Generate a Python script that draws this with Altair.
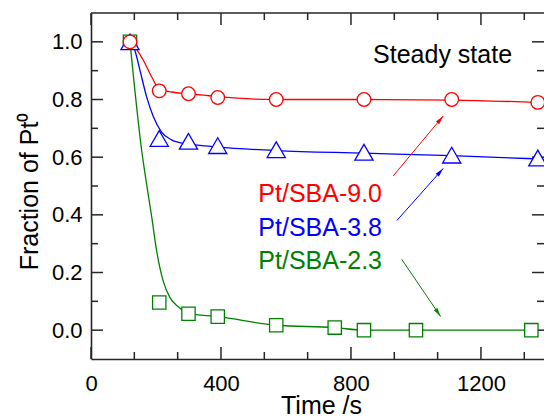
import math
import altair as alt
import pandas as pd

# ---------------- data ----------------
red_t = [120, 210, 300, 390, 570, 840, 1110, 1375]
red_y = [1.0, 0.83, 0.82, 0.807, 0.80, 0.80, 0.80, 0.79]
blue_t = [120, 210, 300, 390, 570, 840, 1110, 1375]
blue_y = [1.0, 0.665, 0.655, 0.64, 0.626, 0.617, 0.607, 0.597]
green_t = [120, 210, 300, 390, 570, 750, 840, 1000, 1355]
green_y = [1.0, 0.096, 0.057, 0.047, 0.017, 0.009, 0.0, 0.0, 0.0]

# fitted curves
red_fit_t = [120, 140, 161, 187, 209, 248, 300, 346, 390, 570, 840, 1110, 1375]
red_fit_y = [1.0, 0.975, 0.936, 0.878, 0.838, 0.826, 0.82, 0.815, 0.81, 0.80, 0.80, 0.798, 0.79]
blue_fit_t = [120, 135, 151, 171, 192, 217, 248, 289, 341, 390, 570, 840, 1110, 1375]
blue_fit_y = [1.0, 0.97, 0.90, 0.81, 0.74, 0.687, 0.66, 0.647, 0.64, 0.635, 0.623, 0.614, 0.605, 0.594]
green_fit_t = [120, 156, 171, 187, 202, 222, 243, 269, 299, 390, 570, 750, 840, 1000, 1355]
green_fit_y = [1.0, 0.623, 0.507, 0.391, 0.275, 0.171, 0.113, 0.081, 0.057, 0.047, 0.017, 0.009, 0.0, 0.0, 0.0]

series_names = ["Pt/SBA-9.0", "Pt/SBA-3.8", "Pt/SBA-2.3"]
series_colors = ["#FF0000", "#0000FF", "#008000"]

# annotation labels
label_t = [515, 515, 515]
label_y = [0.4455, 0.3276, 0.211]
# arrows (start -> tip)
arrow_t1 = [930, 941, 956]
arrow_y1 = [0.535, 0.380, 0.246]
arrow_t2 = [1084, 1084, 1076]
arrow_y2 = [0.743, 0.561, 0.047]

note_text = "Steady state"
note_t = 868
note_y = 0.9276

x_domain = [0, 1394]
y_domain = [-0.1, 1.1]
x_major = [0, 400, 800, 1200]
x_minor = [133.33, 266.67, 533.33, 666.67, 933.33, 1066.67, 1333.33]
y_major = [0.0, 0.2, 0.4, 0.6, 0.8, 1.0]
y_minor = [0.1, 0.3, 0.5, 0.7, 0.9]

# ---------------- layout / style ----------------
W, H = 453, 346
MAJ, MIN = 12, 7
AX = "#262626"
FONT = "Liberation Sans"

xs = alt.Scale(domain=x_domain, nice=False, zero=False)
ys = alt.Scale(domain=y_domain, nice=False, zero=False)
cs = alt.Scale(domain=series_names, range=series_colors)

x_axis = alt.Axis(values=x_major, format="d", ticks=False, tickSize=0, grid=False, domain=True,
                  domainColor=AX, domainWidth=1.6, labelFont=FONT, labelFontSize=22,
                  labelColor="black", labelBaseline="alphabetic", labelPadding=31,
                  labelFlush=False, title="Time /s", titleFont=FONT, titleFontSize=25,
                  titleFontWeight="normal", titleColor="black", titleX=230, titleY=54,
                  titleBaseline="alphabetic", titleAlign="center")
y_axis = alt.Axis(values=y_major, format=".1f", ticks=False, tickSize=0, grid=False,
                  domain=True, domainColor=AX, domainWidth=1.6, labelFont=FONT,
                  labelFontSize=22, labelColor="black", labelPadding=9, labelFlush=False,
                  title="Fraction of Pt\u2070", titleFont=FONT, titleFontSize=25,
                  titleFontWeight="normal", titleColor="black", titleAngle=270,
                  titleX=-54, titleY=178, titleBaseline="alphabetic", titleAlign="center")


def X(field="t"):
    return alt.X(f"{field}:Q", scale=xs, axis=x_axis)


def Y(field="y"):
    return alt.Y(f"{field}:Q", scale=ys, axis=y_axis)


# fitted curves
fit_df = pd.concat([
    pd.DataFrame({"s": series_names[0], "t": red_fit_t, "y": red_fit_y}),
    pd.DataFrame({"s": series_names[1], "t": blue_fit_t, "y": blue_fit_y}),
    pd.DataFrame({"s": series_names[2], "t": green_fit_t, "y": green_fit_y}),
])
lines = alt.Chart(fit_df).mark_line(interpolate="monotone", strokeWidth=1.3).encode(
    x=X(), y=Y(), color=alt.Color("s:N", scale=cs, legend=None), detail="s:N")


def markers(ts, vs, shape, size, color):
    df = pd.DataFrame({"t": ts, "y": vs})
    return alt.Chart(df).mark_point(shape=shape, size=size, filled=True, fill="white",
                                    stroke=color, strokeWidth=1.3, opacity=1).encode(x=X(), y=Y())


sq = markers(green_t, green_y, "square", 178, series_colors[2])
tri = markers(blue_t, blue_y, "triangle-up", 330, series_colors[1])
circ = markers(red_t, red_y, "circle", 185, series_colors[0])

# annotation labels
lab_df = pd.DataFrame({"s": series_names, "t": label_t, "y": label_y})
labels = alt.Chart(lab_df).mark_text(font=FONT, fontSize=25, align="left",
                                     baseline="alphabetic").encode(
    x=X(), y=Y(), text="s:N", color=alt.Color("s:N", scale=cs, legend=None))

note_df = pd.DataFrame({"txt": [note_text], "t": [note_t], "y": [note_y]})
note = alt.Chart(note_df).mark_text(font=FONT, fontSize=25, align="left",
                                    baseline="alphabetic", color="black").encode(
    x=X(), y=Y(), text="txt:N")

# arrows
kx = W / (x_domain[1] - x_domain[0])
ky = H / (y_domain[1] - y_domain[0])
angles = []
for a, b, c, d in zip(arrow_t1, arrow_y1, arrow_t2, arrow_y2):
    dxp = (c - a) * kx
    dyp = -(d - b) * ky
    angles.append(math.degrees(math.atan2(dxp, -dyp)) % 360)
arr_df = pd.DataFrame({"s": series_names, "t": arrow_t1, "y": arrow_y1,
                       "t2": arrow_t2, "y2": arrow_y2, "ang": angles})
arrow_lines = alt.Chart(arr_df).mark_rule(strokeWidth=1).encode(
    x=X(), y=Y(), x2="t2:Q", y2="y2:Q", color=alt.Color("s:N", scale=cs, legend=None))
arrow_heads = alt.Chart(arr_df).mark_point(
    shape="M0,0L-0.35,1.5L0.35,1.5Z", size=144, filled=True, opacity=1, strokeWidth=0).encode(
    x=X("t2"), y=Y("y2"), angle=alt.Angle("ang:Q", scale=None),
    color=alt.Color("s:N", scale=cs, legend=None))


# ticks (inward) and frame
def xticks(vals, length, top):
    df = pd.DataFrame({"t": vals})
    y0, y1 = (0, length) if top else (H, H - length)
    return alt.Chart(df).mark_rule(color=AX, strokeWidth=1.5).encode(
        x=X(), y=alt.value(y0), y2=alt.value(y1))


def yticks(vals, length, right):
    df = pd.DataFrame({"y": vals})
    x0, x1 = (W, W - length) if right else (0, length)
    return alt.Chart(df).mark_rule(color=AX, strokeWidth=1.5).encode(
        y=Y(), x=alt.value(x0), x2=alt.value(x1))


frame_top = alt.Chart(pd.DataFrame({"k": [0]})).mark_rule(color=AX, strokeWidth=1.6).encode(
    x=alt.value(0), x2=alt.value(W), y=alt.value(0))

tick_layers = [
    xticks(x_major, MAJ, False), xticks(x_minor, MIN, False),
    xticks(x_major, MAJ, True), xticks(x_minor, MIN, True),
    yticks(y_major, MAJ, False), yticks(y_minor, MIN, False),
    yticks(y_major, MAJ, True), yticks(y_minor, MIN, True),
]

chart = alt.layer(
    *tick_layers, frame_top, lines, arrow_lines, arrow_heads, sq, tri, circ, labels, note
).properties(
    width=W, height=H, autosize="none",
    padding={"left": 91, "top": 13, "right": 0, "bottom": 58},
    background="white",
).configure_view(strokeWidth=0)

chart.save("out.html", embed_options={"renderer": "svg", "actions": False})
